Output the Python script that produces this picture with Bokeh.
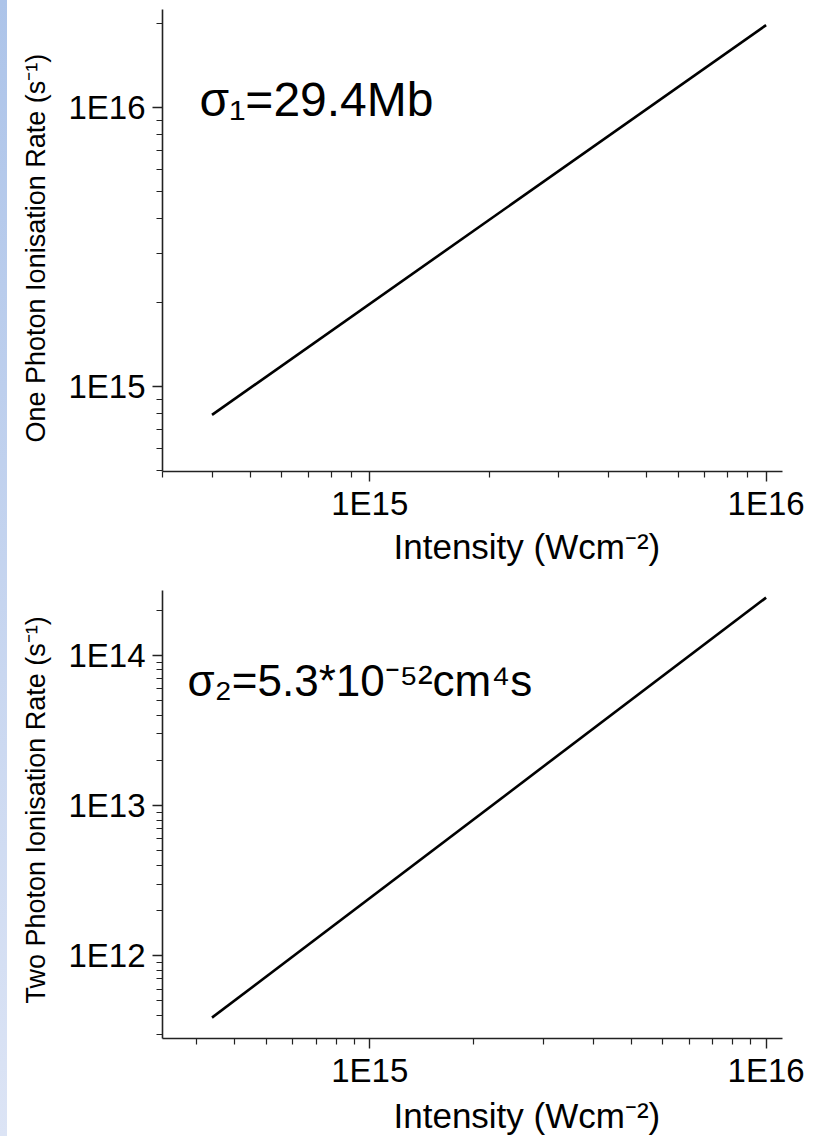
from bokeh.plotting import figure
from bokeh.models import Range1d, FixedTicker, CustomJSTickFormatter, Label, Div, Title
from bokeh.layouts import column, row
from bokeh.embed import file_html
from bokeh.resources import INLINE

# ---- data ----
intensity = [4.0e14, 1.0e16]                 # W cm^-2
one_photon_rate = [7.9e14, 1.97e16]          # s^-1
two_photon_rate = [3.87e11, 2.42e14]         # s^-1

x_major = [1e15, 1e16]
top_x_minor = [3e14, 4e14, 5e14, 6e14, 7e14, 8e14, 9e14,
               2e15, 3e15, 4e15, 5e15, 6e15, 7e15, 8e15, 9e15]
# minor ticks of the lower panel sit slightly left of the nominal values (as read)
bot_x_minor = [3.66e14, 4.57e14, 5.49e14, 6.40e14, 7.32e14, 8.23e14, 9.15e14,
               1.83e15, 2.74e15, 3.66e15, 4.57e15, 5.49e15, 6.40e15, 7.32e15,
               8.23e15, 9.15e15]
top_y_major = [1e15, 1e16]
top_y_minor = [5e14, 6e14, 7e14, 8e14, 9e14,
               2e15, 3e15, 4e15, 5e15, 6e15, 7e15, 8e15, 9e15, 2e16]
bot_y_major = [1e12, 1e13, 1e14]
bot_y_minor = [3e11, 4e11, 5e11, 6e11, 7e11, 8e11, 9e11,
               2e12, 3e12, 4e12, 5e12, 6e12, 7e12, 8e12, 9e12,
               2e13, 3e13, 4e13, 5e13, 6e13, 7e13, 8e13, 9e13, 2e14]

x_label = "Intensity (Wcm\u207b\u00b2)"
top_y_label = "One Photon Ionisation Rate (s\u207b\u00b9)"
bot_y_label = "Two Photon Ionisation Rate (s\u207b\u00b9)"
top_note = "\u03c3\u2081=29.4Mb"
bot_note = "\u03c3\u2082=5.3*10\u207b\u2075\u00b2cm\u2074s"

FONT = "Liberation Sans"
fmt = CustomJSTickFormatter(code="return '1E' + Math.round(Math.log10(tick));")


def make_fig(height, btop, bbottom, yr, ymaj, ymin, xmin, ys, ylabel, ylab_off,
             note, note_pos, note_size, xlab_standoff):
    p = figure(width=803, height=height, x_axis_type="log", y_axis_type="log",
               x_range=Range1d(3.0e14, 1.1e16), y_range=Range1d(*yr),
               output_backend="svg", toolbar_location=None,
               min_border_left=155, min_border_right=28,
               min_border_top=btop, min_border_bottom=bbottom)
    p.outline_line_color = None
    p.grid.visible = False
    p.line(intensity, ys, line_color="black", line_width=2.6)

    for ax in (p.xaxis[0], p.yaxis[0]):
        ax.formatter = fmt
        ax.axis_line_color = "#222222"
        ax.axis_line_width = 1.6
        ax.major_tick_line_color = "#222222"
        ax.minor_tick_line_color = "#222222"
        ax.major_tick_line_width = 1.4
        ax.minor_tick_line_width = 1.2
        ax.major_tick_in = 0
        ax.minor_tick_in = 0
        ax.major_tick_out = 10
        ax.minor_tick_out = 6
        ax.major_label_text_font = FONT
        ax.major_label_text_font_size = "33px"
        ax.major_label_text_color = "black"
    p.xaxis[0].ticker = FixedTicker(ticks=x_major, minor_ticks=xmin)
    p.yaxis[0].ticker = FixedTicker(ticks=ymaj, minor_ticks=ymin)
    p.xaxis[0].major_label_standoff = 3
    p.yaxis[0].major_label_standoff = 7

    p.add_layout(Title(text=ylabel, align="left", offset=ylab_off,
                       text_font=FONT, text_font_size="27px",
                       text_font_style="normal", text_color="black",
                       standoff=25, vertical_align="top"), "left")
    p.add_layout(Title(text=x_label, align="left", offset=231,
                       text_font=FONT, text_font_size="35px",
                       text_font_style="normal", text_color="black",
                       standoff=xlab_standoff), "below")
    p.add_layout(Label(x=note_pos[0], y=note_pos[1], text=note, text_font=FONT,
                       text_font_size=note_size, text_color="black",
                       text_baseline="middle"))
    return p


p1 = make_fig(575, 9, 104, (4.95e14, 2.24e16), top_y_major, top_y_minor, top_x_minor,
              one_photon_rate, top_y_label, 29, top_note, (3.72e14, 1.064e16), "48px", 1)
p2 = make_fig(561, 15, 97, (2.81e11, 2.70e14), bot_y_major, bot_y_minor, bot_x_minor,
              two_photon_rate, bot_y_label, 35, bot_note, (3.47e14, 6.82e13), "44px", 4)

strip = Div(width=7, height=1136, text="", margin=(0, 0, 0, 0),
            styles={"background": "linear-gradient(#adc4e9, #dce4f5)"})

layout = row(strip, column(p1, p2, spacing=0), spacing=0)

open("out.html", "w").write(file_html(layout, INLINE))
